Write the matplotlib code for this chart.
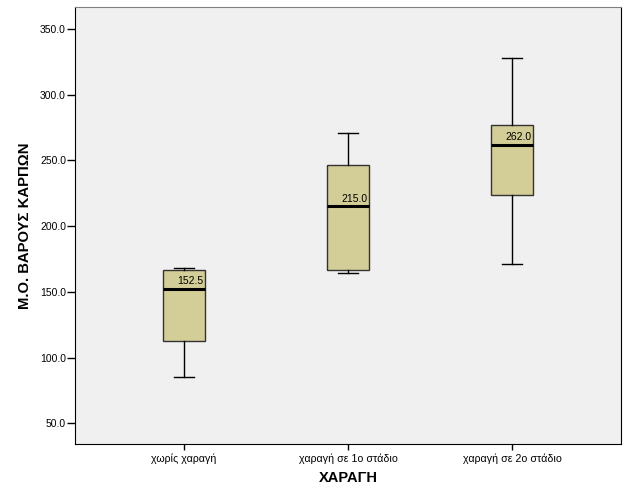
import matplotlib
matplotlib.use('Agg')
from matplotlib import pyplot as plt

plt.rcParams['font.family'] = ['Liberation Sans', 'DejaVu Sans']

categories = ['χωρίς χαραγή', 'χαραγή σε 1ο στάδιο', 'χαραγή σε 2ο στάδιο']
whislo = [85.0, 164.5, 171.0]
q1 = [112.5, 166.5, 224.0]
med = [152.5, 215.0, 262.0]
q3 = [167.0, 246.5, 277.0]
whishi = [168.5, 271.0, 328.0]
yticks = [50.0, 100.0, 150.0, 200.0, 250.0, 300.0, 350.0]

stats = []
for i in range(len(categories)):
    stats.append({'label': categories[i], 'whislo': whislo[i], 'q1': q1[i],
                  'med': med[i], 'q3': q3[i], 'whishi': whishi[i], 'fliers': []})

fig = plt.figure(figsize=(6.29, 5.04), dpi=100)
fig.patch.set_facecolor('white')
ax = fig.add_axes([75/629, 1-444/504, 546/629, 437/504])
ax.set_facecolor('#f0f0f0')

pos = [1, 2, 3]
ax.bxp(stats, positions=pos, widths=0.255, patch_artist=True, showfliers=False,
       boxprops=dict(facecolor='#d3ce97', edgecolor='#333333', linewidth=1.0),
       medianprops=dict(color='black', linewidth=2.2),
       whiskerprops=dict(color='black', linewidth=1.0),
       capprops=dict(color='black', linewidth=1.0),
       capwidths=0.125)

for p, m in zip(pos, med):
    ax.text(p + 0.12, m + 2, '%.1f' % m, ha='right', va='bottom', fontsize=7.5)

ax.set_xlim(0.335, 3.665)
ax.set_ylim(34.2, 366.8)
ax.set_yticks(yticks)
ax.set_yticklabels(['%.1f' % v for v in yticks], fontsize=7.5)
ax.set_xticks(pos)
ax.set_xticklabels(categories, fontsize=7.7)
ax.tick_params(direction='out', width=1, color='black')
ax.tick_params(axis='y', length=5.5, pad=1)
ax.tick_params(axis='x', length=4.3, pad=2.5)

for s in ['left', 'bottom', 'right']:
    ax.spines[s].set_color('black')
ax.spines['top'].set_color('#808080')

ax.set_ylabel('Μ.Ο. ΒΑΡΟΥΣ ΚΑΡΠΩΝ', fontsize=10.7, fontweight='bold', labelpad=5.5)
ax.set_xlabel('ΧΑΡΑΓΗ', fontsize=10.5, fontweight='bold', labelpad=5)

fig.savefig('out.png', dpi=100)
